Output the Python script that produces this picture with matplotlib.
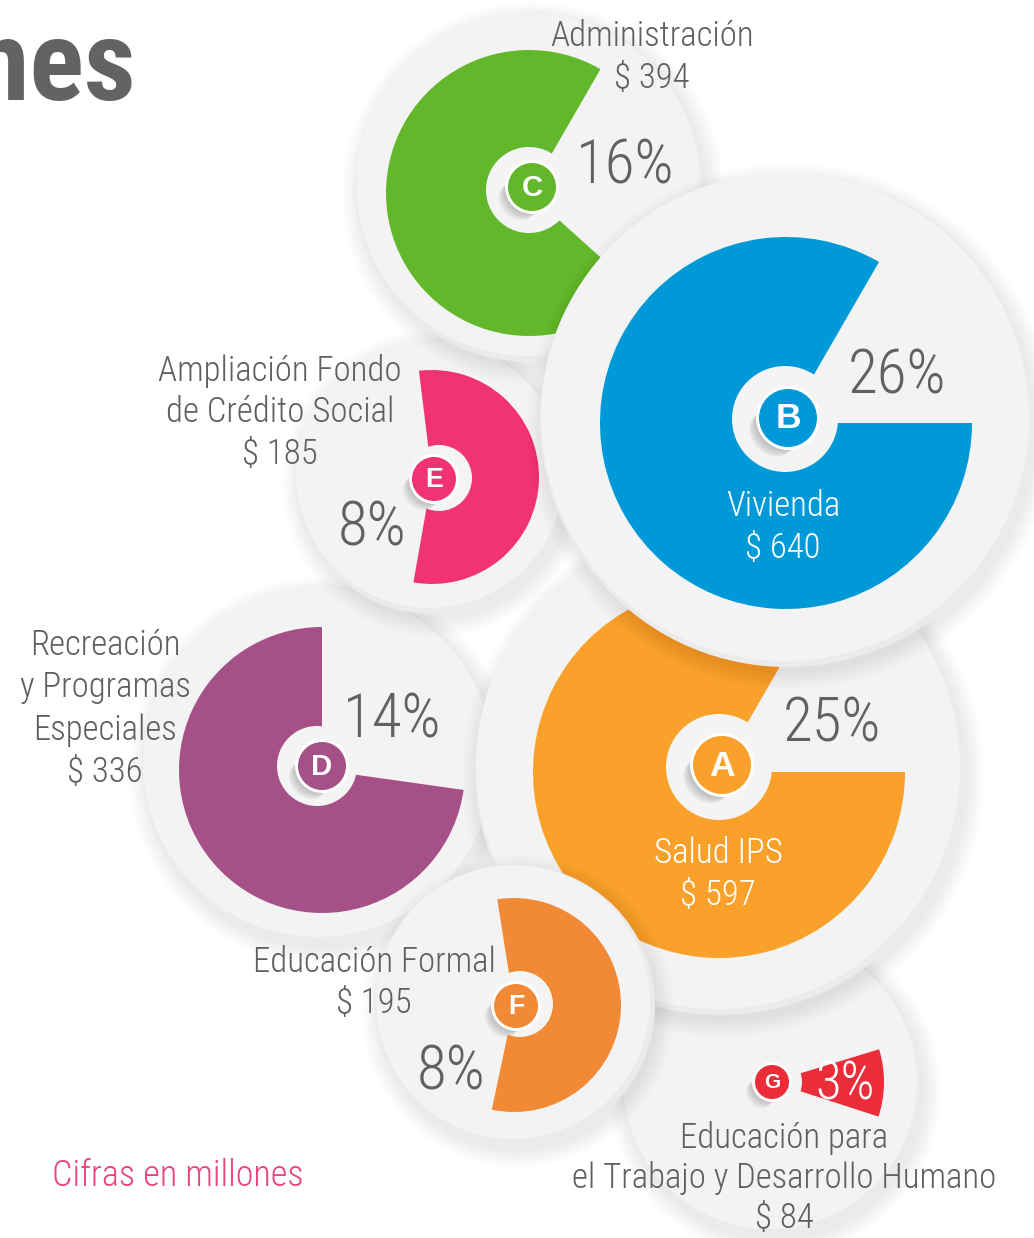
import matplotlib
matplotlib.use("Agg")
import matplotlib.pyplot as plt
from matplotlib.patches import Circle, Wedge, Ellipse

# data
letters = ["A", "B", "C", "D", "E", "F", "G"]
names = [
    ["Salud IPS"],
    ["Vivienda"],
    ["Administración"],
    ["Recreación", "y Programas", "Especiales"],
    ["Ampliación Fondo", "de Crédito Social"],
    ["Educación Formal"],
    ["Educación para", "el Trabajo y Desarrollo Humano"],
]
amounts = [597, 640, 394, 336, 185, 195, 84]
percents = [25, 26, 16, 14, 8, 8, 3]
colors = ["#f9a12a", "#0099d8", "#62b82a", "#a65088", "#f13274", "#f28934", "#ea2d39"]

# layout, pixel coordinates (y grows downward)
W, H = 1034, 1238
layout = {
    "A": dict(disk=(720, 770, 245), wc=(719, 772), R=186, ang=(60, 360), inner=0,
              ring=(719, 767, 53), badge=(722, 765, 29)),
    "B": dict(disk=(787, 420, 247), wc=(786, 423), R=186, ang=(60, 360), inner=0,
              ring=(785, 419, 53), badge=(788, 418, 29)),
    "C": dict(disk=(530, 187, 175), wc=(529, 193), R=143, ang=(60, 318), inner=0,
              ring=(529, 190, 43), badge=(532, 187, 24)),
    "D": dict(disk=(320, 765, 178), wc=(322, 770), R=143, ang=(90, 352), inner=0,
              ring=(317, 766, 40), badge=(322, 766, 24)),
    "E": dict(disk=(432, 477, 137), wc=(432, 477), R=107, ang=(-100, 97), inner=0,
              ring=(439, 478, 33), badge=(434, 479, 22)),
    "F": dict(disk=(515, 1005, 140), wc=(514, 1005), R=107, ang=(-102, 99), inner=0,
              ring=(520, 1004, 33), badge=(516, 1006, 22)),
    "G": dict(disk=(772, 1085, 150), wc=(772, 1082), R=112, ang=(-18, 17), inner=30,
              ring=None, badge=(772, 1082, 17)),
}
order = ["G", "D", "E", "C", "A", "B", "F"]

# text placement: x centre, first baseline, line step, white text?
label_pos = {
    "A": (718, 863, 42, True),
    "B": (783, 516, 42, True),
    "C": (652, 46, 42, False),
    "D": (105, 655, 42.5, False),
    "E": (280, 381, 41.5, False),
    "F": (374, 972, 41, False),
    "G": (784, 1148, 40, False),
}
pct_pos = {
    "A": (832, 742), "B": (897, 393), "C": (625, 183), "D": (392, 738),
    "E": (372, 545), "F": (451, 1089), "G": (845, 1099),
}

narrow = ["Roboto Condensed", "Barlow Condensed", "Archivo Narrow", "PT Sans Narrow",
          "DejaVu Sans"]
gray_txt = "#5f5f62"

fig = plt.figure(figsize=(W / 100, H / 100), dpi=100)
ax = fig.add_axes([0, 0, 1, 1])
ax.set_xlim(0, W)
ax.set_ylim(H, 0)
ax.axis("off")


def draw_disk(cx, cy, r, z):
    # soft drop shadow
    for k in range(10):
        ax.add_patch(Circle((cx + 3, cy + 6), r + 1.8 * k, color="black",
                            alpha=0.008, lw=0, zorder=z))
    ax.add_patch(Circle((cx, cy), r, color="#ebebec", lw=0, zorder=z + 0.01))
    ax.add_patch(Circle((cx - 2, cy - 3), r - 3, color="#f3f3f4", lw=0, zorder=z + 0.02))


def wedge(cx, cy, R, a0, a1, inner, color, z):
    # y axis is inverted, so on-screen ccw angles become negative
    w = Wedge((cx, cy), R, -a1, -a0, width=(R - inner) if inner else None,
              color=color, lw=0, zorder=z)
    ax.add_patch(w)


for i, key in enumerate(order):
    idx = letters.index(key)
    L = layout[key]
    z = 1 + i
    cx, cy, r = L["disk"]
    draw_disk(cx, cy, r, z)
    wedge(L["wc"][0], L["wc"][1], L["R"], L["ang"][0], L["ang"][1], L["inner"],
          colors[idx], z + 0.2)

    if L["ring"] is not None:
        rx, ry, rr = L["ring"]
        ax.add_patch(Circle((rx, ry), rr, color="#f4f4f5", lw=0, zorder=z + 0.3))
    bx, by, br = L["badge"]
    # smudge shadow towards the lower left of the badge
    for k in range(6):
        ax.add_patch(Ellipse((bx - 0.3 * br - k * 1.6, by + 0.3 * br + k * 1.6),
                             br * 1.7, br * 1.3, angle=45, color="#2a2a2a",
                             alpha=0.06, lw=0, zorder=z + 0.35))
    ax.add_patch(Circle((bx, by), br + 3, color="white", lw=0, zorder=z + 0.4))
    ax.add_patch(Circle((bx, by), br, color=colors[idx], lw=0, zorder=z + 0.45))
    ax.text(bx, by + 1, key, color="white", fontsize=br * 0.88, fontweight="bold",
            family=["Liberation Sans", "DejaVu Sans"], ha="center", va="center",
            zorder=z + 0.5)

# labels and percentages on top
for idx, key in enumerate(letters):
    x, y0, step, white = label_pos[key]
    lines = names[idx] + ["$ %d" % amounts[idx]]
    for j, s in enumerate(lines):
        ax.text(x, y0 + j * step, s, color="white" if white else gray_txt,
                fontsize=25, family=narrow, fontweight="light",
                ha="center", va="baseline", zorder=20)
    px, py = pct_pos[key]
    ax.text(px, py, "%d%%" % percents[idx],
            color="white" if key == "G" else "#616164",
            fontsize=38 if key == "G" else 44, family=narrow, fontweight="light",
            ha="center", va="baseline", zorder=20)

# cropped heading and footnote
ax.text(136, 100, "Inversiones", color="#636366", fontsize=82, fontweight="bold",
        family=narrow, ha="right", va="baseline", zorder=20)
ax.text(52, 1186, "Cifras en millones", color="#e8457e", fontsize=26, family=narrow,
        fontweight="light", ha="left", va="baseline", zorder=20)

fig.savefig("out.png", dpi=100, facecolor="white")
